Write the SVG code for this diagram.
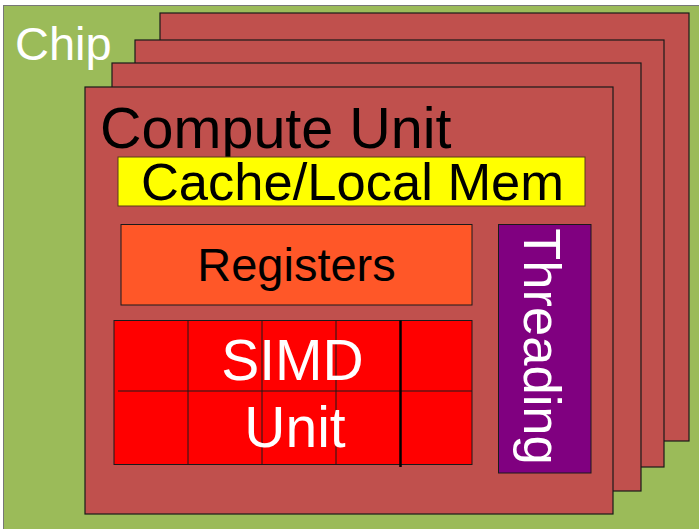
<svg xmlns="http://www.w3.org/2000/svg" width="699" height="529" viewBox="0 0 699 529">
<style>
.card{fill:#C0504D;stroke:#1a1a1a;stroke-width:1.2}
.t{font-family:"Liberation Sans",Arial,sans-serif}
.grid{stroke:#1a1a1a;stroke-width:1}
</style>
<rect width="699" height="529" fill="#ffffff"/>
<g id="chip">
<rect x="3.5" y="5.5" width="697" height="525" fill="#9BBB59" stroke="#777" stroke-width="1"/>
<text class="t" x="15" y="60" font-size="47" fill="#ffffff">Chip</text>
</g>
<g id="cu4"><rect class="card" x="160" y="13" width="529" height="428"/></g>
<g id="cu3"><rect class="card" x="135" y="40" width="529" height="427"/></g>
<g id="cu2"><rect class="card" x="112" y="63" width="529" height="428"/></g>
<g id="compute-unit">
<rect class="card" x="85" y="87" width="528" height="427"/>
<text class="t" x="100" y="148" font-size="57.5" fill="#000">Compute Unit</text>
</g>
<g id="cache">
<rect x="118" y="157" width="467" height="49" fill="#FFFF00" stroke="#5a3a1a" stroke-width="1"/>
<text class="t" x="352.5" y="200" font-size="52.5" fill="#000" text-anchor="middle">Cache/Local Mem</text>
</g>
<g id="registers">
<rect x="121" y="224.5" width="351" height="80.5" fill="#FF5728" stroke="#1a1a1a" stroke-width="1"/>
<text class="t" x="296.5" y="280.5" font-size="47" fill="#000" text-anchor="middle">Registers</text>
</g>
<g id="simd">
<rect x="114" y="320.5" width="358" height="144" fill="#FF0000" stroke="#1a1a1a" stroke-width="1"/>
<line class="grid" x1="118" y1="391" x2="472" y2="391"/>
<line class="grid" x1="188" y1="320.5" x2="188" y2="464.5"/>
<line class="grid" x1="262" y1="320.5" x2="262" y2="464.5"/>
<line class="grid" x1="336" y1="320.5" x2="336" y2="464.5"/>
<line x1="400.5" y1="320.5" x2="400.5" y2="467" stroke="#000" stroke-width="2.5"/>
<text class="t" x="292.5" y="380" font-size="57" fill="#ffffff" text-anchor="middle">SIMD</text>
<text class="t" x="295" y="447" font-size="57" fill="#ffffff" text-anchor="middle">Unit</text>
</g>
<g id="threading">
<rect x="498.5" y="224.5" width="92.5" height="248.5" fill="#800080" stroke="#1a1a1a" stroke-width="1"/>
<text class="t" transform="translate(524 346.5) rotate(90)" font-size="52.5" fill="#ffffff" text-anchor="middle">Threading</text>
</g>
<g id="connectors"></g>
</svg>
